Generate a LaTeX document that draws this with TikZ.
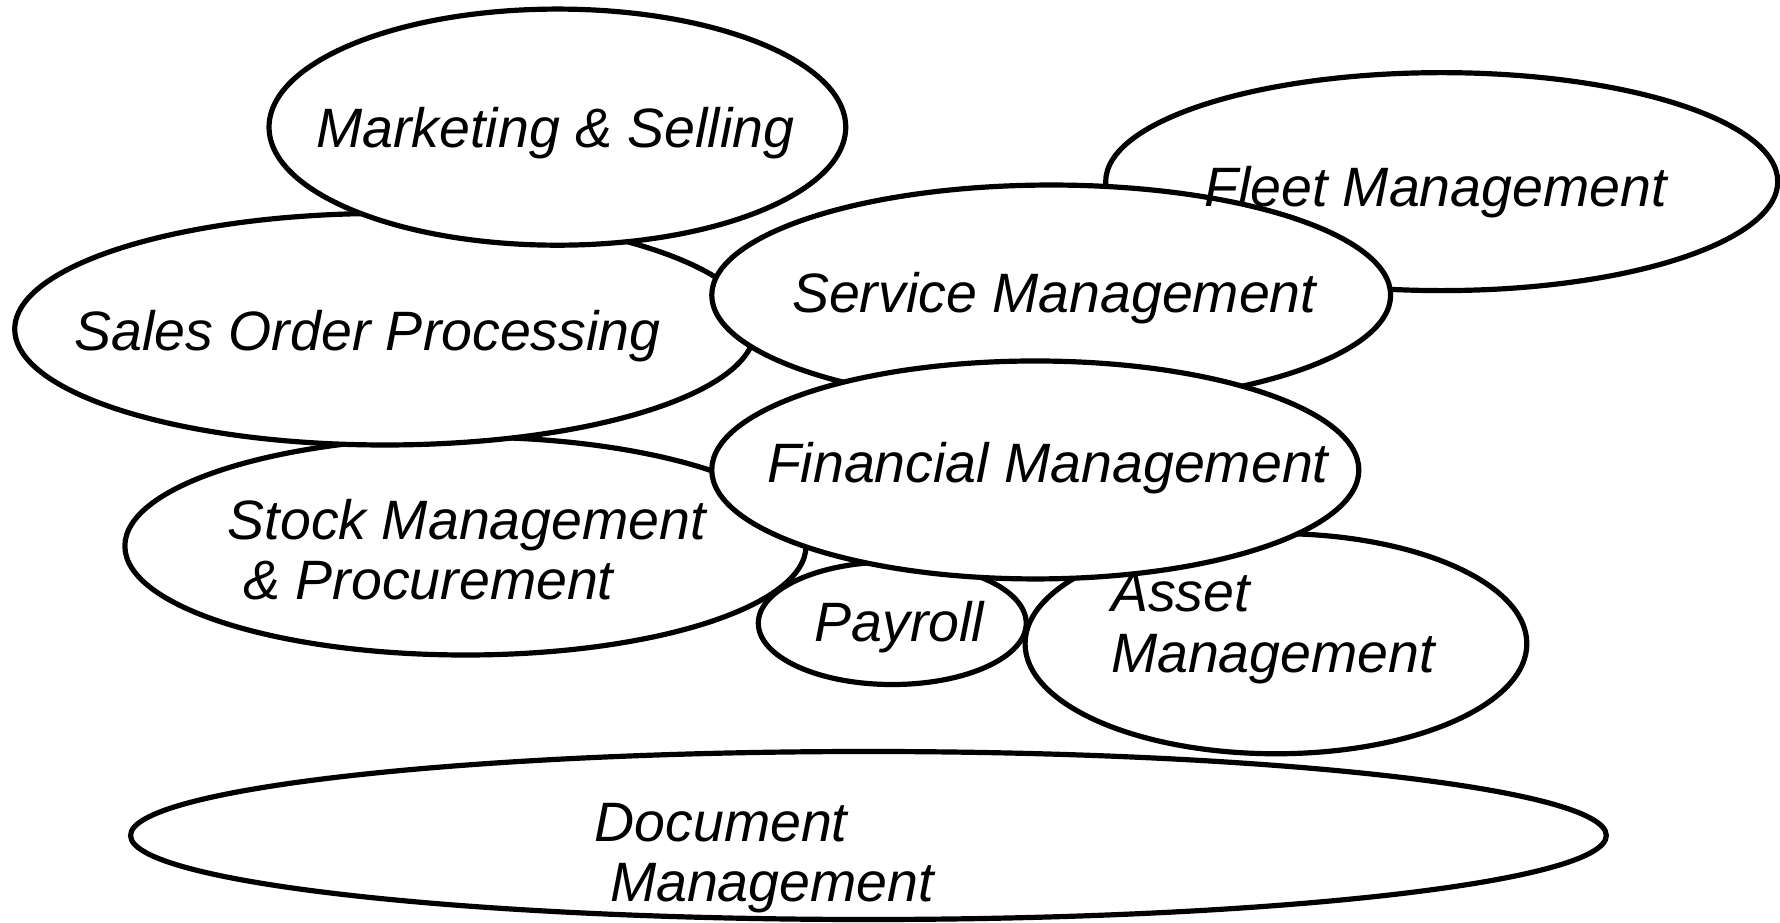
\documentclass[tikz,border=0pt]{standalone}
\usepackage{fontspec}
\setmainfont{Liberation Sans}

\begin{document}
\begin{tikzpicture}[x=0.01cm,y=-0.01cm,
  blob/.style={draw=black,fill=white,line width=1.3pt},
  lbl/.style={anchor=base west,inner sep=0pt,align=left,
    font=\fontsize{13.9}{15.1}\selectfont\itshape}]
\useasboundingbox (0,0) rectangle (1568,813);
% modules, back to front
\draw[blob] (1270,160) ellipse [x radius=296,y radius=96];
\draw[blob] (410,481) ellipse [x radius=300,y radius=96];
\draw[blob] (786,549) ellipse [x radius=118,y radius=54];
\draw[blob] (1124,567) ellipse [x radius=221,y radius=97];
\draw[blob] (339,290) ellipse [x radius=326,y radius=102];
\draw[blob] (491,112) ellipse [x radius=254,y radius=104];
\draw[blob] (926,260) ellipse [x radius=299,y radius=97];
\draw[blob] (912,414) ellipse [x radius=285,y radius=96];
\draw[blob] (765,736) ellipse [x radius=650,y radius=74];
% labels on top (base = last line)
\node[lbl] (mkt) at (278,130) {Marketing \& Selling};
\node[lbl] (fleet) at (1060,182) {Fleet Management};
\node[lbl] (service) at (697,275) {Service Management};
\node[lbl] (sales) at (65,309) {Sales Order Processing};
\node[lbl] (fin) at (675,425) {Financial Management};
\node[lbl] (stock) at (200,528) {Stock Management\\\hspace*{0.28em}\& Procurement};
\node[lbl] (payroll) at (717,565) {Payroll};
\node[lbl] (asset) at (978,592) {Asset\\Management};
\node[lbl] (doc) at (523,794) {Document\\\hspace*{0.28em}Management};
\end{tikzpicture}
\end{document}
